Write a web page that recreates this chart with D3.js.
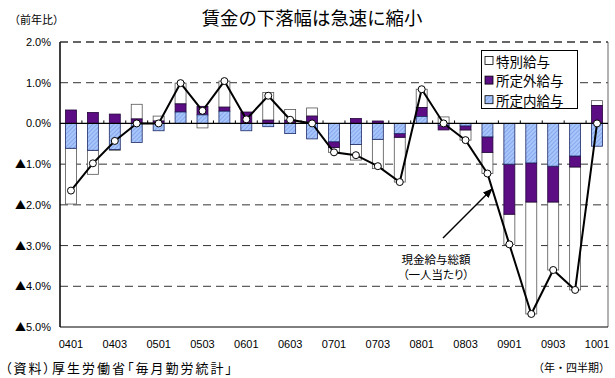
<!DOCTYPE html>
<html>
<head>
<meta charset="utf-8">
<script src="https://cdn.jsdelivr.net/npm/d3@7"></script>
<style>
  html, body { margin: 0; padding: 0; background: #fff; }
  svg { display: block; }
  text { font-family: "Liberation Sans", "Noto Sans CJK JP", sans-serif; fill: #000; }
  .jp { font-family: "Noto Sans CJK JP", sans-serif; }
  .palt { font-feature-settings: "palt"; }
</style>
</head>
<body>
<script>
// Quarter labels (year + quarter)
const quarters = ["0401","0402","0403","0404","0501","0502","0503","0504",
                  "0601","0602","0603","0604","0701","0702","0703","0704",
                  "0801","0802","0803","0804","0901","0902","0903","0904","1001"];

// Year-on-year contributions (%)
const scheduled = [-0.61,-0.66,-0.64,-0.47,-0.18, 0.28, 0.21, 0.30,
                   -0.18,-0.08,-0.25,-0.38,-0.45,-0.52,-0.39,-0.25,
                    0.17,-0.04,-0.06,-0.33,-1.00,-0.97,-1.05,-0.80,-0.56];
const overtime  = [ 0.33, 0.27, 0.23, 0.11, 0.06, 0.20, 0.21, 0.10,
                    0.28, 0.08, 0.08, 0.18,-0.14, 0.12, 0.06,-0.09,
                    0.22,-0.12,-0.10,-0.38,-1.23,-0.96,-0.88,-0.27, 0.44];
const special   = [-1.37,-0.59,-0.02, 0.36, 0.12, 0.51,-0.11, 0.64,
                    0.00, 0.68, 0.26, 0.20,-0.12,-0.38,-0.72,-1.10,
                    0.45, 0.16,-0.25,-0.52,-0.74,-2.75,-1.67,-3.02, 0.12];
// Total cash earnings per worker (%)
const totals    = [-1.65,-0.98,-0.43, 0.00, 0.00, 0.99, 0.31, 1.04,
                    0.10, 0.68, 0.09, 0.00,-0.71,-0.78,-1.05,-1.44,
                    0.84, 0.00,-0.41,-1.23,-2.97,-4.68,-3.60,-4.09, 0.00];

const yTicks = [2, 1, 0, -1, -2, -3, -4, -5];

const seriesKeys = ["scheduled", "overtime", "special"];
const seriesNames = { special: "特別給与", overtime: "所定外給与", scheduled: "所定内給与" };

const W = 615, H = 378;
const plot = { left: 60, right: 608, top: 42, bottom: 327 };

const svg = d3.select("body").append("svg").attr("width", W).attr("height", H);

// hatched light blue fill for scheduled earnings
const defs = svg.append("defs");
const pat = defs.append("pattern").attr("id", "hatch")
  .attr("patternUnits", "userSpaceOnUse").attr("width", 3).attr("height", 3)
  .attr("patternTransform", "rotate(45)");
pat.append("rect").attr("width", 3).attr("height", 3).attr("fill", "#a9c6fb");
pat.append("rect").attr("width", 1).attr("height", 3).attr("fill", "#86a8ee");

const fills = { scheduled: "url(#hatch)", overtime: "#5c0d84", special: "#ffffff" };
const strokes = { scheduled: "#1d2a66", overtime: "#22063a", special: "#555" };

const x = d3.scaleBand().domain(quarters).range([plot.left, plot.right])
  .paddingInner(0.5).paddingOuter(0.25);
const y = d3.scaleLinear().domain([-5, 2]).range([plot.bottom, plot.top]);

// gridlines
const grid = svg.append("g");
yTicks.filter(v => v !== 0 && v !== -5).forEach(v => {
  grid.append("line")
    .attr("x1", plot.left).attr("x2", plot.right)
    .attr("y1", y(v)).attr("y2", y(v))
    .attr("stroke", "#333").attr("stroke-width", 1)
    .attr("stroke-dasharray", "8,5");
});
// frame: right and bottom
grid.append("line").attr("x1", plot.right).attr("x2", plot.right)
  .attr("y1", plot.top).attr("y2", plot.bottom).attr("stroke", "#666");
grid.append("line").attr("x1", plot.left).attr("x2", plot.right)
  .attr("y1", plot.bottom).attr("y2", plot.bottom).attr("stroke", "#000");

// stacked bars
const rows = quarters.map((q, i) => ({
  q, scheduled: scheduled[i], overtime: overtime[i], special: special[i]
}));
const stacked = d3.stack().keys(seriesKeys).offset(d3.stackOffsetDiverging)(rows);

const barsG = svg.append("g");
stacked.slice().reverse().forEach(s => {
  barsG.selectAll(null).data(s).enter().append("rect")
    .attr("x", d => x(d.data.q))
    .attr("width", x.bandwidth())
    .attr("y", d => y(Math.max(d[0], d[1])))
    .attr("height", d => Math.abs(y(d[0]) - y(d[1])))
    .attr("fill", fills[s.key])
    .attr("stroke", strokes[s.key])
    .attr("stroke-width", 0.8);
});

// zero line with category ticks
svg.append("line").attr("x1", plot.left).attr("x2", plot.right)
  .attr("y1", y(0)).attr("y2", y(0)).attr("stroke", "#000").attr("stroke-width", 1.3);
const step = x.step();
d3.range(1, quarters.length).forEach(i => {
  const xx = plot.left + i * step;
  svg.append("line").attr("x1", xx).attr("x2", xx)
    .attr("y1", y(0)).attr("y2", y(0) - 3)
    .attr("stroke", "#000").attr("stroke-width", 1);
});

// left axis
svg.append("line").attr("x1", plot.left).attr("x2", plot.left)
  .attr("y1", plot.top).attr("y2", plot.bottom).attr("stroke", "#000").attr("stroke-width", 1.5);
const yAxis = d3.axisLeft(y).tickValues(yTicks).tickFormat("").tickSize(0).tickPadding(9);
const ya = svg.append("g").attr("transform", `translate(${plot.left},0)`).call(yAxis);
ya.select(".domain").remove();
ya.selectAll(".tick text").style("font-size", "11px").style("font-family", null).attr("fill", "#000")
  .each(function(v) {
    const t = d3.select(this);
    if (v < 0) t.append("tspan").attr("class", "jp").text("▲");
    t.append("tspan").text(Math.abs(v).toFixed(1) + "%");
  });

// top dashed line at 2.0%
svg.append("line").attr("x1", plot.left).attr("x2", plot.right)
  .attr("y1", y(2)).attr("y2", y(2))
  .attr("stroke", "#333").attr("stroke-width", 1.2).attr("stroke-dasharray", "8,5");

// x axis labels
const xAxis = d3.axisBottom(x)
  .tickValues(quarters.filter((q, i) => i % 2 === 0))
  .tickSize(0).tickPadding(13);
const xa = svg.append("g").attr("transform", `translate(0,${plot.bottom})`).call(xAxis);
xa.select(".domain").remove();
xa.selectAll("text").style("font-size", "11px").style("font-family", null).attr("fill", "#000");

// total earnings line
const cx = d => x(d.q) + x.bandwidth() / 2;
const lineData = quarters.map((q, i) => ({ q, v: totals[i] }));
svg.append("path").datum(lineData)
  .attr("fill", "none").attr("stroke", "#000").attr("stroke-width", 2)
  .attr("d", d3.line().x(cx).y(d => y(d.v)));
svg.selectAll(".pt").data(lineData).enter().append("circle")
  .attr("cx", cx).attr("cy", d => y(d.v)).attr("r", 3.5)
  .attr("fill", "#fff").attr("stroke", "#000").attr("stroke-width", 1);

// annotation for the line
defs.append("marker").attr("id", "arrow").attr("viewBox", "0 0 10 10")
  .attr("refX", 9).attr("refY", 5).attr("markerWidth", 7).attr("markerHeight", 7)
  .attr("orient", "auto")
  .append("path").attr("d", "M0,1 L10,5 L0,9 z").attr("fill", "#000");
svg.append("line").attr("x1", 443).attr("y1", 238).attr("x2", 492).attr("y2", 189)
  .attr("stroke", "#000").attr("stroke-width", 1.4).attr("marker-end", "url(#arrow)");
svg.append("text").attr("class", "jp palt").attr("x", 436).attr("y", 264)
  .attr("text-anchor", "middle").style("font-size", "11.5px").text("現金給与総額");
svg.append("text").attr("class", "jp palt").attr("x", 436).attr("y", 279)
  .attr("text-anchor", "middle").style("font-size", "11.5px").text("（一人当たり）");

// legend
const lg = svg.append("g");
lg.append("rect").attr("x", 481.5).attr("y", 50.5).attr("width", 96).attr("height", 58)
  .attr("fill", "#fff").attr("stroke", "#000").attr("stroke-width", 1);
["special", "overtime", "scheduled"].forEach((k, i) => {
  const cy = 60.5 + i * 19.6;
  lg.append("rect").attr("x", 485).attr("y", cy - 4).attr("width", 8).attr("height", 8)
    .attr("fill", fills[k]).attr("stroke", "#000").attr("stroke-width", 0.8);
  lg.append("text").attr("class", "jp").attr("x", 496).attr("y", cy)
    .attr("dominant-baseline", "central").style("font-size", "13.5px").text(seriesNames[k]);
});

// titles and notes
svg.append("text").attr("class", "jp").attr("x", 312).attr("y", 25)
  .attr("text-anchor", "middle").style("font-size", "18.4px").text("賃金の下落幅は急速に縮小");
svg.append("text").attr("class", "jp").attr("x", 9).attr("y", 24)
  .style("font-size", "11px").text("（前年比）");
svg.append("text").attr("class", "jp palt").attr("x", 5).attr("y", 373)
  .style("font-size", "13px").style("letter-spacing", "2px").text("（資料）厚生労働省「毎月勤労統計」");
svg.append("text").attr("class", "jp").attr("x", 610).attr("y", 372)
  .attr("text-anchor", "end").style("font-size", "11px").text("（年・四半期）");
</script>
</body>
</html>
